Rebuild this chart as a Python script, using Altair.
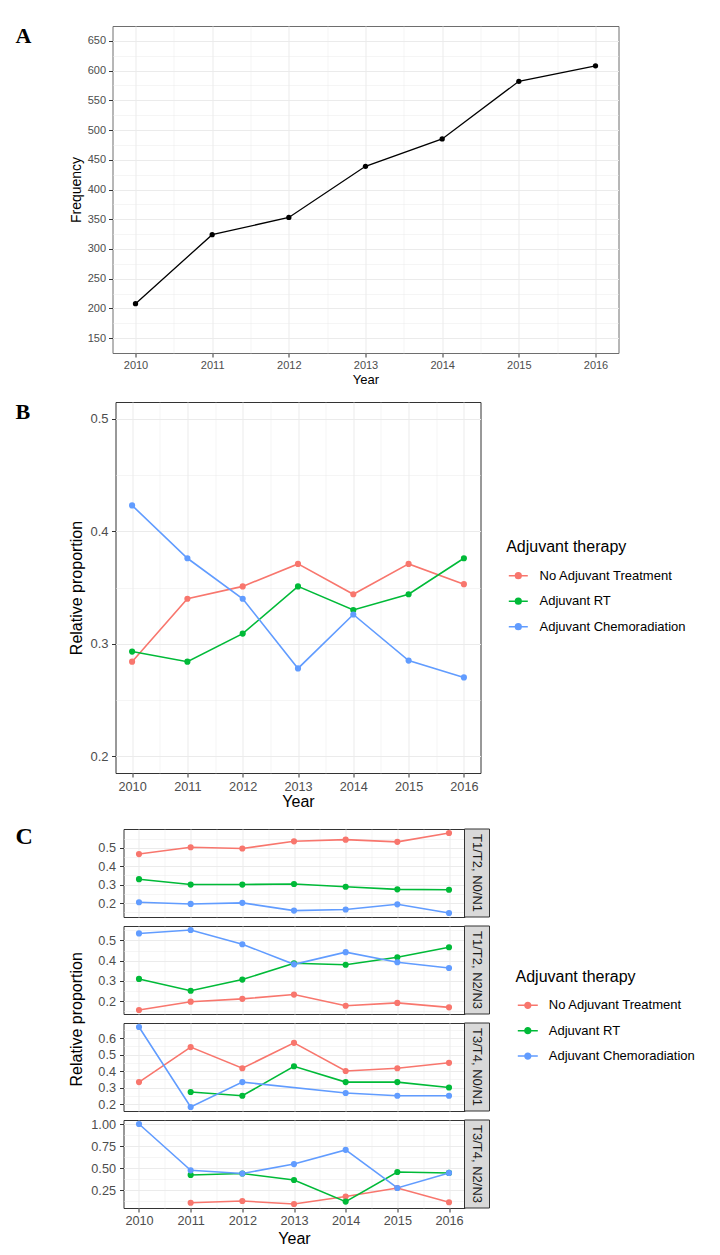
import altair as alt
import pandas as pd

# ---------------- data ----------------
panel_letters = ["A", "B", "C"]
years = [2010, 2011, 2012, 2013, 2014, 2015, 2016]
frequency = [208, 324, 353, 439, 485, 582, 608]

therapies = ["No Adjuvant Treatment", "Adjuvant RT", "Adjuvant Chemoradiation"]
therapy_colors = ["#F8766D", "#00BA38", "#619CFF"]

b_no_adjuvant = [0.284, 0.340, 0.351, 0.371, 0.344, 0.371, 0.353]
b_adjuvant_rt = [0.293, 0.284, 0.309, 0.351, 0.330, 0.344, 0.376]
b_chemorad = [0.423, 0.376, 0.340, 0.278, 0.326, 0.285, 0.270]

stages = ["T1/T2, N0/N1", "T1/T2, N2/N3", "T3/T4, N0/N1", "T3/T4, N2/N3"]
c_no_adjuvant = [
    [0.466, 0.503, 0.496, 0.535, 0.544, 0.532, 0.580],
    [0.157, 0.198, 0.212, 0.233, 0.178, 0.192, 0.170],
    [0.333, 0.545, 0.417, 0.571, 0.400, 0.417, 0.450],
    [None, 0.105, 0.125, 0.091, 0.176, 0.273, 0.111],
]
c_adjuvant_rt = [
    [0.330, 0.301, 0.301, 0.304, 0.289, 0.275, 0.273],
    [0.310, 0.252, 0.307, 0.387, 0.380, 0.417, 0.466],
    [None, 0.273, 0.250, 0.429, 0.333, 0.333, 0.300],
    [None, 0.421, 0.4375, 0.364, 0.118, 0.455, 0.444],
]
c_chemorad = [
    [0.205, 0.196, 0.202, 0.160, 0.166, 0.194, 0.147],
    [0.534, 0.551, 0.481, 0.382, 0.442, 0.392, 0.364],
    [0.667, 0.182, 0.333, None, 0.267, 0.250, 0.250],
    [1.000, 0.474, 0.4375, 0.545, 0.706, 0.273, 0.444],
]

# tick / grid values
year_minor = [2010.5, 2011.5, 2012.5, 2013.5, 2014.5, 2015.5]
a_y_major = [150, 200, 250, 300, 350, 400, 450, 500, 550, 600, 650]
a_y_minor = [175, 225, 275, 325, 375, 425, 475, 525, 575, 625]
b_y_major = [0.2, 0.3, 0.4, 0.5]
b_y_minor = [0.25, 0.35, 0.45]
c_y_major = [[0.2, 0.3, 0.4, 0.5], [0.2, 0.3, 0.4, 0.5],
             [0.2, 0.3, 0.4, 0.5, 0.6], [0.25, 0.5, 0.75, 1.0]]
c_y_minor = [[0.15, 0.25, 0.35, 0.45, 0.55], [0.15, 0.25, 0.35, 0.45, 0.55],
             [0.25, 0.35, 0.45, 0.55, 0.65], [0.125, 0.375, 0.625, 0.875]]
c_y_format = [".1f", ".1f", ".1f", ".2f"]
c_y_step = [10, 10, 10, 4]

FONT = "Liberation Sans"
GRID = "#EBEBEB"
TICK = "#333333"
LABEL = "#4D4D4D"
X_DOMAIN = [2009.7, 2016.3]
W_A, H_A = 506, 327
W_B, H_B = 365, 371
W_C, H_C = 341, 88
STRIP_W = 25


def step_test(k):
    return f"(abs(datum.value*{k} - round(datum.value*{k})) < 1e-6)"


def make_axis(major, minor, test, fmt, label_size=12.7, tick_size=4, label_pad=3,
              show=True, title=None, title_size=16, title_x=None, title_y=None):
    kw = dict(
        values=sorted(major + minor), grid=True, gridColor=GRID, domain=False,
        gridWidth={"condition": {"test": test, "value": 1.0}, "value": 0.5},
        zindex=0, labelFlush=False, labelOverlap=False,
    )
    if show:
        kw.update(
            labelExpr=f"{test} ? format(datum.value, '{fmt}') : ''",
            labelFontSize=label_size, labelColor=LABEL, labelFont=FONT,
            labelPadding=label_pad, tickSize=tick_size, tickColor=TICK,
            tickOpacity={"condition": {"test": test, "value": 1}, "value": 0},
        )
    else:
        kw.update(labels=False, ticks=False)
    if title is not None:
        kw.update(title=title, titleFontSize=title_size, titleFont=FONT,
                  titleFontWeight="normal", titleColor="black",
                  titleBaseline="alphabetic")
        if title_x is not None:
            kw["titleX"] = title_x
        if title_y is not None:
            kw["titleY"] = title_y
    else:
        kw["title"] = None
    return alt.Axis(**kw)


def long_df(series):
    rows = []
    for name, vals in zip(therapies, series):
        for yr, v in zip(years, vals):
            if v is not None:
                rows.append({"Year": yr, "Therapy": name, "Proportion": v})
    return pd.DataFrame(rows)


def sym_path(r):
    parts = ["M-1,0L1,0"]
    for rr in r:
        parts.append(f"M{-rr},0A{rr},{rr},0,1,1,{rr},0A{rr},{rr},0,1,1,{-rr},0")
    return "".join(parts)


def make_legend(lx, ly, size, offset, label_offset, row_pad, title_pad, radii):
    return alt.Legend(
        title="Adjuvant therapy", orient="none", legendX=lx, legendY=ly,
        symbolType=sym_path(radii), symbolSize=size, symbolStrokeWidth=1.5,
        symbolOpacity=1, symbolOffset=offset, labelOffset=label_offset,
        rowPadding=row_pad, titlePadding=title_pad, padding=0,
        titleFontSize=16, titleFontWeight="normal", titleColor="black",
        titleFont=FONT, labelFont=FONT, labelFontSize=13, labelColor="black",
        labelLimit=300,
    )


def letter_mark(t, dx, dy, size=22):
    return alt.Chart(pd.DataFrame({"panel": [t]})).mark_text(
        align="left", baseline="top", font="Liberation Serif", fontSize=size,
        fontWeight="bold", color="black"
    ).encode(text="panel:N", x=alt.value(dx), y=alt.value(dy))


def spacer():
    return alt.Chart(pd.DataFrame({"s": [0]})).mark_point(opacity=0, size=1).encode(
        x=alt.value(0), y=alt.value(0)
    ).properties(width=1, height=1, view=alt.ViewBackground(stroke="transparent"))


def wrap(panel):
    return alt.hconcat(spacer(), panel, spacing=0).resolve_scale(color="independent")


color_scale = alt.Scale(domain=therapies, range=therapy_colors)


def prop_layers(df, ydomain, x_axis, y_axis, legend):
    x = alt.X("Year:Q", scale=alt.Scale(domain=X_DOMAIN, nice=False, zero=False), axis=x_axis)
    y = alt.Y("Proportion:Q", scale=alt.Scale(domain=ydomain, nice=False, zero=False), axis=y_axis)
    base = alt.Chart(df)
    line = base.mark_line(strokeWidth=1.6).encode(
        x=x, y=y, color=alt.Color("Therapy:N", scale=color_scale, legend=legend, sort=therapies))
    pts = base.mark_point(filled=True, size=38, opacity=1).encode(
        x=x, y=y, color=alt.Color("Therapy:N", scale=color_scale, legend=None, sort=therapies))
    return [line, pts]


# ---------------- panel A ----------------
df_a = pd.DataFrame({"Year": years, "Frequency": frequency})
ax_a_x = make_axis(years, year_minor, "(datum.value % 1 === 0)", "d", label_size=11,
                   tick_size=4, label_pad=2, title="Year", title_size=13, title_y=30.3)
ax_a_y = make_axis(a_y_major, a_y_minor, "(datum.value % 50 === 0)", "d", label_size=11,
                   tick_size=4, label_pad=3, title="Frequency", title_size=14, title_x=-32.3)
xa = alt.X("Year:Q", scale=alt.Scale(domain=X_DOMAIN, nice=False, zero=False), axis=ax_a_x)
ya = alt.Y("Frequency:Q", scale=alt.Scale(domain=[125, 675], nice=False, zero=False), axis=ax_a_y)
base_a = alt.Chart(df_a)
chart_a = alt.layer(
    base_a.mark_line(color="black", strokeWidth=1.3).encode(x=xa, y=ya),
    base_a.mark_point(filled=True, color="black", size=28, opacity=1).encode(x=xa, y=ya),
    letter_mark(panel_letters[0], -97, -0.5),
).properties(width=W_A, height=H_A, view=alt.ViewBackground(stroke="#6E6E6E"))

# ---------------- panel B ----------------
df_b = long_df([b_no_adjuvant, b_adjuvant_rt, b_chemorad])
ax_b_x = make_axis(years, year_minor, "(datum.value % 1 === 0)", "d", label_size=12.7,
                   tick_size=4, label_pad=3.5, title="Year", title_size=16, title_y=33.7)
ax_b_y = make_axis(b_y_major, b_y_minor, step_test(10), ".1f", label_size=13,
                   tick_size=4, label_pad=3.4, title="Relative proportion", title_size=16,
                   title_x=-33.8)
leg_b = make_legend(390.7, 136.5, 361, 1.6, 10.7, 7.5, 10.7, [0.3, 0.17, 0.05])
chart_b = alt.layer(
    *prop_layers(df_b, [0.185, 0.515], ax_b_x, ax_b_y, leg_b),
    letter_mark(panel_letters[1], -100, -0.5),
).properties(width=W_B, height=H_B)

# ---------------- panel C ----------------
leg_c = make_legend(392, 139.8, 400, 1.3, 10, 7.4, 9.5, [0.29, 0.16, 0.05])
rows = []
for i in range(4):
    df_c = long_df([c_no_adjuvant[i], c_adjuvant_rt[i], c_chemorad[i]])
    lo, hi = df_c["Proportion"].min(), df_c["Proportion"].max()
    pad = 0.05 * (hi - lo)
    last = i == 3
    ax_x = make_axis(years, year_minor, "(datum.value % 1 === 0)", "d", label_size=12.7,
                     tick_size=4, label_pad=2.7, show=last,
                     title="Year" if last else None, title_size=16, title_y=35)
    ax_y = make_axis(c_y_major[i], c_y_minor[i], step_test(c_y_step[i]), c_y_format[i],
                     label_size=12.7, tick_size=4, label_pad=4,
                     title="Relative proportion" if i == 1 else None, title_size=16,
                     title_x=-41.8, title_y=92.8)
    strip_df = pd.DataFrame({"Stage": [stages[i]]})
    strip_rect = alt.Chart(strip_df).mark_rect(
        fill="#D9D9D9", stroke="#333333", strokeWidth=1
    ).encode(x=alt.value(W_C), x2=alt.value(W_C + STRIP_W), y=alt.value(0), y2=alt.value(H_C))
    strip_text = alt.Chart(strip_df).mark_text(
        angle=90, fontSize=13, color="#1A1A1A", font=FONT, align="center", baseline="middle"
    ).encode(text="Stage:N", x=alt.value(W_C + STRIP_W / 2), y=alt.value(H_C / 2))
    layers = prop_layers(df_c, [lo - pad, hi + pad], ax_x, ax_y, leg_c) + [strip_rect, strip_text]
    if i == 0:
        layers.append(letter_mark(panel_letters[2], -108, -4.1, 24))
    rows.append(alt.layer(*layers).properties(width=W_C, height=H_C))

chart_c = alt.vconcat(*rows, spacing=9, bounds="flush")

chart = alt.vconcat(wrap(chart_a), wrap(chart_b), wrap(chart_c), spacing=13).resolve_scale(
    color="independent"
).properties(
    padding={"left": 3.5, "top": 16, "right": 0, "bottom": 0},
    background="white",
).configure(font=FONT).configure_view(stroke="#333333", strokeWidth=1)

chart.save("out.html", embed_options={"renderer": "svg", "actions": False})
